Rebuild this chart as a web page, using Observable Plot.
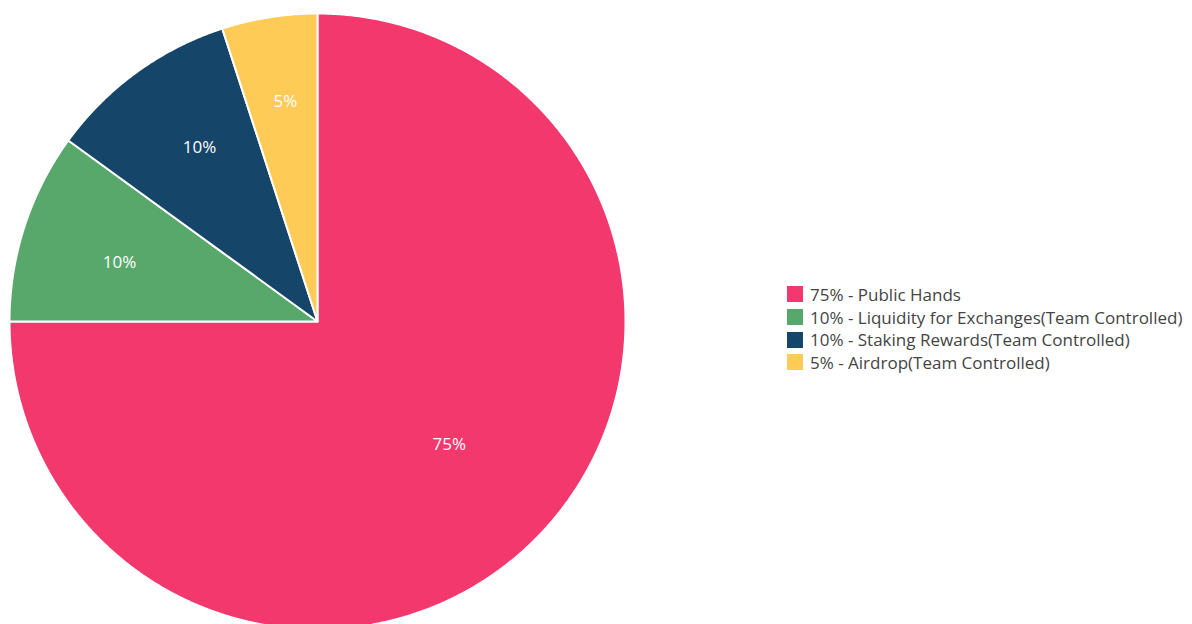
<!DOCTYPE html>
<html>
<head>
<meta charset="utf-8">
<script src="https://cdn.jsdelivr.net/npm/d3@7"></script>
<script src="https://cdn.jsdelivr.net/npm/@observablehq/plot@0.6"></script>
<style>
  body { margin: 0; background: #fff; font-family: "Open Sans", sans-serif; overflow: hidden; }
  #wrap { position: relative; width: 1192px; height: 624px; }
  #legend { position: absolute; left: 787px; top: 283px; font-family: "Open Sans", sans-serif; font-size: 17px; color: #444; white-space: nowrap; }
  .row { display: flex; align-items: center; height: 22.7px; }
  .sw { width: 16px; height: 16px; margin-right: 7px; flex: none; }
</style>
</head>
<body>
<div id="wrap"><div id="chart"></div><div id="legend"></div></div>
<script>
const categories = ["Public Hands", "Liquidity for Exchanges(Team Controlled)", "Staking Rewards(Team Controlled)", "Airdrop(Team Controlled)"];
const values = [75, 10, 10, 5];
const colors = ["#F2386D", "#58A86C", "#16456A", "#FECB57"];
// label placement tweaks (layout only)
const labelRadius = [0.585, 0.671, 0.681, 0.722];
const labelAngleShift = [-2, -1.4, 1.8, 0.7];

const total = d3.sum(values);
let acc = 0;
const slices = categories.map((c, i) => {
  const a0 = acc / total * 2 * Math.PI;
  acc += values[i];
  const a1 = acc / total * 2 * Math.PI;
  return {c, v: values[i], a0, a1, i};
});

// polygon points for each slice (angle measured clockwise from 12 o'clock)
const poly = [];
for (const s of slices) {
  poly.push({c: s.c, x: 0, y: 0});
  const n = Math.max(2, Math.ceil((s.a1 - s.a0) / 0.005));
  for (let k = 0; k <= n; k++) {
    const a = s.a0 + (s.a1 - s.a0) * k / n;
    poly.push({c: s.c, x: Math.sin(a), y: Math.cos(a)});
  }
  poly.push({c: s.c, x: 0, y: 0});
}
const labels = slices.map(s => {
  const m = (s.a0 + s.a1) / 2 + labelAngleShift[s.i] * Math.PI / 180, r = labelRadius[s.i];
  return {c: s.c, x: r * Math.sin(m), y: r * Math.cos(m), t: s.v + "%"};
});

const chart = Plot.plot({
  width: 1192,
  height: 624,
  margin: 0,
  x: {domain: [-1, 1], range: [9, 625], axis: null},
  y: {domain: [-1, 1], range: [629, 13], axis: null},
  color: {domain: categories, range: colors},
  style: {fontFamily: "Open Sans, sans-serif", background: "white"},
  marks: [
    Plot.line(poly, {x: "x", y: "y", z: "c", fill: "c", stroke: "white", strokeWidth: 2, curve: "linear-closed"}),
    Plot.text(labels, {x: "x", y: "y", text: "t", fill: "white", fontSize: 17})
  ]
});
document.getElementById("chart").appendChild(chart);

const legend = document.getElementById("legend");
categories.forEach((c, i) => {
  const row = document.createElement("div");
  row.className = "row";
  row.innerHTML = `<div class="sw" style="background:${colors[i]}"></div><span>${values[i]}% - ${c}</span>`;
  legend.appendChild(row);
});
</script>
</body>
</html>
